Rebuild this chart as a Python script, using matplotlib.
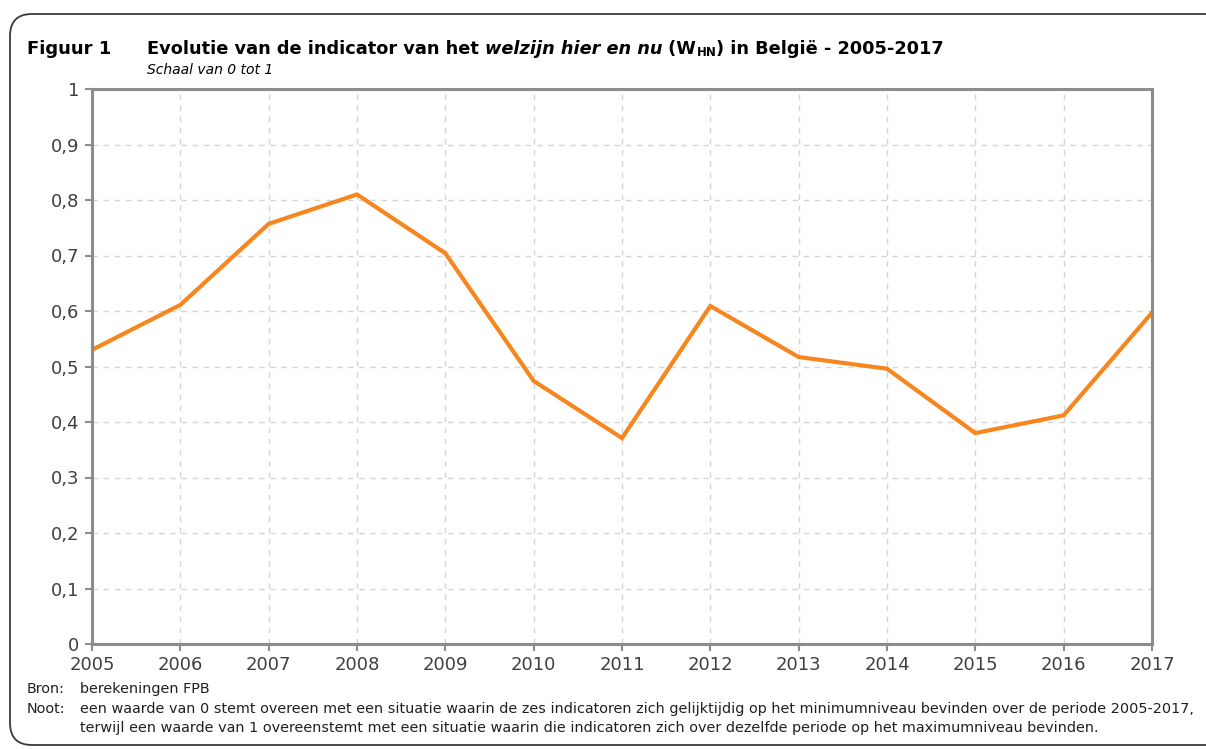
import matplotlib
matplotlib.use('Agg')
import matplotlib.pyplot as plt
from matplotlib.patches import FancyBboxPatch
from matplotlib.ticker import FuncFormatter

YEARS = list(range(2005, 2018))
WHN = [0.530, 0.611, 0.757, 0.810, 0.704, 0.474, 0.371,
       0.609, 0.517, 0.496, 0.380, 0.412, 0.597]
Y_TICKS = [0, 0.1, 0.2, 0.3, 0.4, 0.5, 0.6, 0.7, 0.8, 0.9, 1]

W, H = 1206, 749
plt.rcParams['font.family'] = ['DejaVu Sans']

fig = plt.figure(figsize=(W / 100, H / 100), dpi=100)

# cadre arrondi autour de la figure (coordonnées en pixels)
cadre = FancyBboxPatch((10, 4), 1220, 731, boxstyle='round,pad=0,rounding_size=22',
                       transform=None, facecolor='none', edgecolor='#3a3a3a',
                       linewidth=1.3)
fig.patches.append(cadre)

ax = fig.add_axes([92 / W, 1 - 644 / H, (1152 - 92) / W, (644 - 89) / H])
ax.plot(YEARS, WHN, color='#F7861F', linewidth=3, solid_joinstyle='miter')
ax.set_xlim(2005, 2017)
ax.set_ylim(0, 1)
ax.set_xticks(YEARS)
ax.set_yticks(Y_TICKS)
ax.yaxis.set_major_formatter(FuncFormatter(lambda v, p: f'{v:g}'.replace('.', ',')))
ax.grid(True, color='#D5D5D5', linestyle=(0, (4, 4)), linewidth=1)
for s in ax.spines.values():
    s.set_color('#8C8C8C')
    s.set_linewidth(2.2)
ax.tick_params(colors='#8C8C8C', width=1.5, length=5, labelcolor='#404040',
               labelsize=13)
ax.tick_params(axis='x', pad=4)
ax.tick_params(axis='y', pad=4)


def morceaux(x, y, parts, **kw):
    """Place des bouts de texte les uns après les autres."""
    r = fig.canvas.get_renderer()
    for txt, opts in parts:
        o = dict(kw)
        o.update(opts)
        dy = o.pop('dy', 0)
        t = fig.text(x, y + dy, txt, transform=None, va='baseline', **o)
        x = t.get_window_extent(r).x1


fig.text(27, H - 54, 'Figuur 1', transform=None, fontsize=13,
         fontweight='bold', va='baseline')
morceaux(147, H - 54, [
    ('Evolutie van de indicator van het ', {}),
    ('welzijn hier en nu', {'style': 'italic'}),
    (' (W', {}),
    ('HN', {'fontsize': 8.5, 'dy': -2}),
    (') in België - 2005-2017', {}),
], fontsize=12.8, fontweight='bold', color='black')
fig.text(147, H - 74, 'Schaal van 0 tot 1', transform=None, fontsize=10,
         style='italic', va='baseline')

noot_kw = dict(transform=None, fontsize=10.35, va='baseline', color='#202020')
fig.text(27, H - 693, 'Bron:', **noot_kw)
fig.text(80, H - 693, 'berekeningen FPB', **noot_kw)
fig.text(27, H - 713, 'Noot:', **noot_kw)
fig.text(80, H - 713, 'een waarde van 0 stemt overeen met een situatie waarin de zes '
         'indicatoren zich gelijktijdig op het minimumniveau bevinden over de periode 2005-2017,',
         **noot_kw)
fig.text(80, H - 732, 'terwijl een waarde van 1 overeenstemt met een situatie waarin die '
         'indicatoren zich over dezelfde periode op het maximumniveau bevinden.', **noot_kw)

fig.savefig('out.png', dpi=100)
